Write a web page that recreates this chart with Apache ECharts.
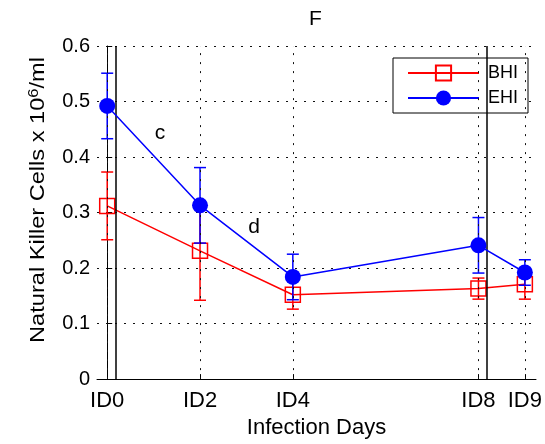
<!DOCTYPE html>
<html>
<head>
<meta charset="utf-8">
<script src="https://cdn.jsdelivr.net/npm/echarts@6/dist/echarts.min.js"></script>
<style>
  html, body { margin: 0; padding: 0; background: #fff; }
  #chart { width: 545px; height: 444px; }
</style>
</head>
<body>
<div id="chart"></div>
<script>
// Infection day positions and their tick labels
const days = [0, 2, 4, 8, 9];
const dayLabels = ['ID0', 'ID2', 'ID4', 'ID8', 'ID9'];

// Natural killer cell counts (x 10^6/ml): means and error half-widths
const bhiMean = [0.312, 0.231, 0.152, 0.163, 0.171];
const bhiErr  = [0.061, 0.089, 0.026, 0.019, 0.027];
const ehiMean = [0.492, 0.313, 0.184, 0.241, 0.192];
const ehiErr  = [0.059, 0.068, 0.041, 0.050, 0.023];

// Solid reference lines across the plot (in days)
const refDays = [0.19, 8.18];

// Annotation letters
const notes = [
  { text: 'c', x: 160, y: 133 },
  { text: 'd', x: 254, y: 227 }
];

const FONT = '"Liberation Sans", Arial, Helvetica, sans-serif';
const RED = '#ff0000';
const BLUE = '#0000ff';

function pairs(xs, ys) { return xs.map((x, i) => [x, ys[i]]); }
function triples(xs, ys, es) { return xs.map((x, i) => [x, ys[i], es[i]]); }

function errorBars(color) {
  return function (params, api) {
    const x = api.value(0), y = api.value(1), e = api.value(2);
    const top = api.coord([x, y + e]);
    const bot = api.coord([x, y - e]);
    const hw = 6;
    const st = { stroke: color, lineWidth: 1.5 };
    return {
      type: 'group',
      children: [
        { type: 'line', shape: { x1: top[0], y1: top[1], x2: bot[0], y2: bot[1] }, style: st },
        { type: 'line', shape: { x1: top[0] - hw, y1: top[1], x2: top[0] + hw, y2: top[1] }, style: st },
        { type: 'line', shape: { x1: bot[0] - hw, y1: bot[1], x2: bot[0] + hw, y2: bot[1] }, style: st }
      ]
    };
  };
}

const chart = echarts.init(document.getElementById('chart'), null, { renderer: 'canvas' });

const dotted = { color: '#111', width: 1, type: [2, 7] };

chart.setOption({
  animation: false,
  backgroundColor: '#fff',
  textStyle: { fontFamily: FONT, color: '#000' },
  grid: { left: 97, right: 9, top: 46, bottom: 60, containLabel: false },
  legend: {
    data: ['BHI', 'EHI'],
    orient: 'vertical',
    left: 393,
    top: 58,
    padding: [6, 10, 6, 14],
    itemWidth: 71,
    itemHeight: 19,
    itemGap: 7,
    backgroundColor: '#fff',
    borderColor: '#000',
    borderWidth: 1,
    borderRadius: 0,
    textStyle: { fontFamily: FONT, fontSize: 18, color: '#000', padding: [0, 0, 0, 4] }
  },
  xAxis: {
    type: 'value',
    min: -0.22,
    max: 9.24,
    name: 'Infection Days',
    nameLocation: 'middle',
    nameGap: 37,
    nameTextStyle: { fontFamily: FONT, fontSize: 22, color: '#000' },
    axisLine: { show: true, onZero: false, lineStyle: { color: '#000', width: 1 } },
    axisTick: { show: true, inside: true, length: 5, customValues: days, lineStyle: { color: '#000' } },
    axisLabel: {
      customValues: days,
      margin: 11,
      fontFamily: FONT,
      fontSize: 22,
      color: '#000',
      formatter: function (v) {
        const i = days.indexOf(v);
        return i >= 0 ? dayLabels[i] : '';
      }
    },
    splitLine: { show: false }
  },
  yAxis: {
    type: 'value',
    min: 0,
    max: 0.6,
    interval: 0.1,
    axisLine: { show: true, lineStyle: { color: '#000', width: 1 } },
    axisTick: { show: true, inside: true, length: 5, lineStyle: { color: '#000' } },
    axisLabel: { margin: 7, fontFamily: FONT, fontSize: 20, color: '#000' },
    splitLine: { show: true, lineStyle: dotted }
  },
  graphic: [
    {
      type: 'text',
      left: 316 - 7,
      top: 9,
      style: { text: 'F', fontFamily: FONT, fontSize: 21, fill: '#000' }
    },
    {
      // vertical axis title, stretched along its length
      type: 'text',
      x: 38,
      y: 200,
      rotation: Math.PI / 2,
      scaleX: 1.18,
      style: {
        text: 'Natural Killer Cells x 10{sup|6}/ml',
        fontFamily: FONT,
        fontSize: 20,
        fill: '#000',
        align: 'center',
        verticalAlign: 'middle',
        rich: {
          sup: { fontFamily: FONT, fontSize: 14, fill: '#000', verticalAlign: 'top', padding: [0, 0, 8, 0] }
        }
      }
    }
  ].concat(notes.map(n => ({
    type: 'text',
    x: n.x,
    y: n.y,
    style: { text: n.text, fontFamily: FONT, fontSize: 21, fill: '#000', align: 'center', verticalAlign: 'middle' }
  }))),
  series: [
    {
      name: 'grid',
      type: 'line',
      data: [],
      z: 1,
      silent: true,
      markLine: {
        silent: true,
        symbol: ['none', 'none'],
        label: { show: false },
        animation: false,
        data: days.map(d => ({ xAxis: d, lineStyle: dotted }))
          .concat(refDays.map(d => ({ xAxis: d, lineStyle: { color: '#000', width: 1.5, type: 'solid' } })))
      }
    },
    {
      name: 'BHI err',
      type: 'custom',
      z: 2,
      silent: true,
      renderItem: errorBars(RED),
      encode: { x: 0, y: 1 },
      data: triples(days, bhiMean, bhiErr)
    },
    {
      name: 'BHI',
      type: 'line',
      z: 3,
      data: pairs(days, bhiMean),
      symbol: 'rect',
      symbolSize: 15,
      lineStyle: { color: RED, width: 1.5 },
      itemStyle: { color: 'rgba(0,0,0,0)', borderColor: RED, borderWidth: 1.5 }
    },
    {
      name: 'EHI err',
      type: 'custom',
      z: 4,
      silent: true,
      renderItem: errorBars(BLUE),
      encode: { x: 0, y: 1 },
      data: triples(days, ehiMean, ehiErr)
    },
    {
      name: 'EHI',
      type: 'line',
      z: 5,
      data: pairs(days, ehiMean),
      symbol: 'circle',
      symbolSize: 16,
      lineStyle: { color: BLUE, width: 1.5 },
      itemStyle: { color: BLUE, borderWidth: 0 }
    }
  ]
});
</script>
</body>
</html>
